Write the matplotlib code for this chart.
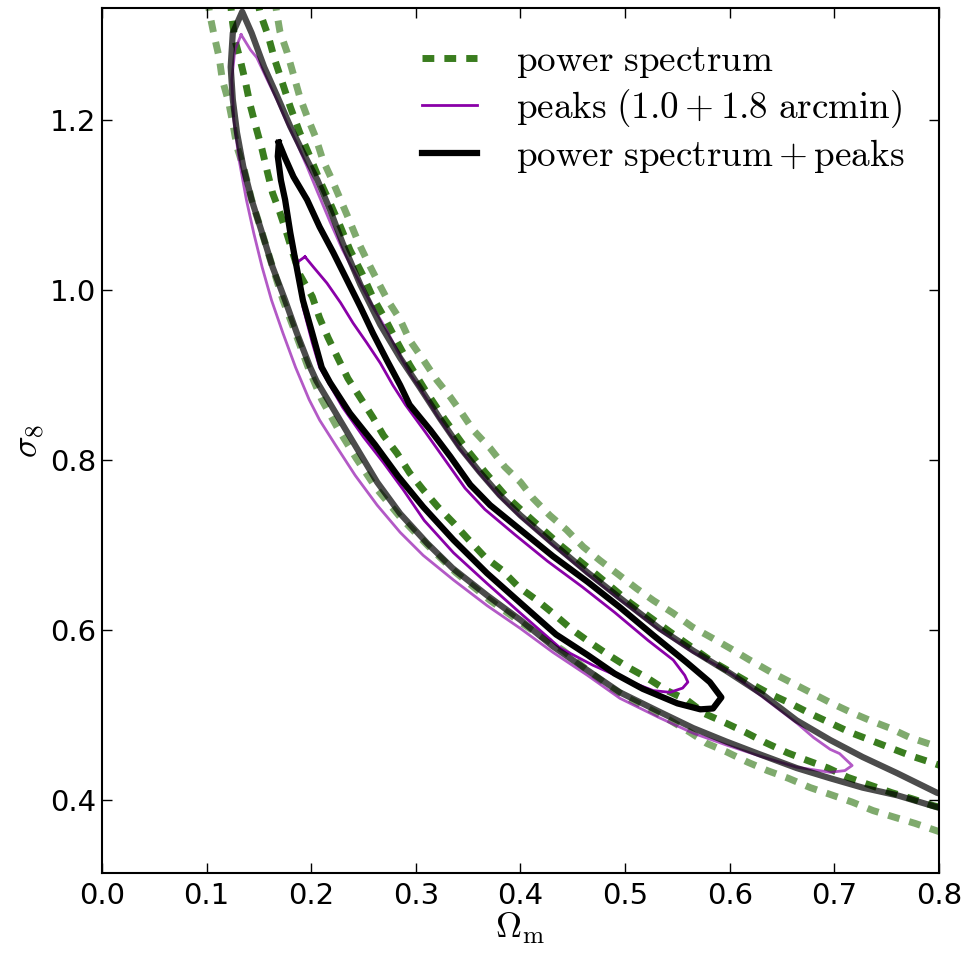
import matplotlib
matplotlib.use("Agg")
import matplotlib.pyplot as plt

plt.rcParams['mathtext.fontset'] = 'cm'

# power spectrum, 68% (dark) and 95% (light) contours -- two open branches each
ps68_lo_x = [0.122, 0.124, 0.127, 0.132, 0.137, 0.1415, 0.147, 0.153, 0.158, 0.163,
             0.170, 0.177, 0.183, 0.189, 0.201, 0.208, 0.216, 0.225, 0.235, 0.247,
             0.259, 0.269, 0.282, 0.294, 0.307, 0.321, 0.336, 0.350, 0.366, 0.382,
             0.398, 0.416, 0.431, 0.449, 0.466, 0.484, 0.502, 0.521, 0.540, 0.559,
             0.576, 0.596, 0.615, 0.634, 0.655, 0.674, 0.694, 0.713, 0.734, 0.755,
             0.774, 0.794, 0.820]
ps68_lo_y = [1.35, 1.322, 1.294, 1.271, 1.245, 1.218, 1.192, 1.165, 1.139, 1.114,
             1.091, 1.065, 1.041, 1.018, 0.992, 0.967, 0.944, 0.921, 0.896, 0.873,
             0.850, 0.829, 0.808, 0.785, 0.765, 0.745, 0.726, 0.707, 0.686, 0.671,
             0.651, 0.635, 0.620, 0.601, 0.586, 0.571, 0.557, 0.544, 0.529, 0.518,
             0.502, 0.491, 0.480, 0.468, 0.456, 0.447, 0.438, 0.427, 0.418, 0.409,
             0.402, 0.394, 0.386]
ps68_hi_x = [0.147, 0.151, 0.159, 0.165, 0.172, 0.180, 0.189, 0.199, 0.208, 0.218,
             0.228, 0.237, 0.249, 0.259, 0.271, 0.282, 0.294, 0.309, 0.328, 0.347,
             0.366, 0.385, 0.409, 0.438, 0.473, 0.505, 0.543, 0.581, 0.619, 0.637,
             0.658, 0.677, 0.696, 0.715, 0.734, 0.755, 0.774, 0.794, 0.820]
ps68_hi_y = [1.35, 1.326, 1.298, 1.271, 1.245, 1.215, 1.185, 1.156, 1.129, 1.102,
             1.074, 1.047, 1.018, 0.991, 0.965, 0.939, 0.912, 0.882, 0.847, 0.815,
             0.786, 0.759, 0.732, 0.700, 0.665, 0.632, 0.598, 0.565, 0.538, 0.526,
             0.514, 0.502, 0.491, 0.480, 0.471, 0.461, 0.452, 0.444, 0.433]
ps95_lo_x = [0.100, 0.103, 0.107, 0.112, 0.115, 0.121, 0.125, 0.129, 0.136, 0.143,
             0.153, 0.163, 0.173, 0.185, 0.197, 0.210, 0.225, 0.243, 0.262, 0.285,
             0.311, 0.338, 0.371, 0.404, 0.441, 0.466, 0.486, 0.503, 0.522, 0.543,
             0.562, 0.578, 0.597, 0.617, 0.636, 0.656, 0.677, 0.696, 0.717, 0.737,
             0.758, 0.777, 0.796, 0.820]
ps95_lo_y = [1.35, 1.324, 1.300, 1.273, 1.247, 1.221, 1.196, 1.168, 1.141, 1.106,
             1.067, 1.027, 0.988, 0.949, 0.909, 0.871, 0.838, 0.802, 0.767, 0.733,
             0.700, 0.668, 0.635, 0.606, 0.576, 0.551, 0.533, 0.520, 0.508, 0.494,
             0.480, 0.467, 0.457, 0.445, 0.435, 0.426, 0.415, 0.407, 0.398, 0.388,
             0.380, 0.373, 0.365, 0.355]
ps95_hi_x = [0.164, 0.167, 0.170, 0.177, 0.183, 0.189, 0.196, 0.204, 0.211, 0.220,
             0.228, 0.237, 0.245, 0.254, 0.264, 0.273, 0.285, 0.294, 0.307, 0.320,
             0.333, 0.344, 0.355, 0.371, 0.385, 0.400, 0.412, 0.428, 0.444, 0.460,
             0.476, 0.492, 0.511, 0.527, 0.546, 0.564, 0.583, 0.600, 0.619, 0.639,
             0.658, 0.677, 0.696, 0.715, 0.734, 0.753, 0.772, 0.794, 0.820]
ps95_hi_y = [1.35, 1.326, 1.304, 1.279, 1.253, 1.227, 1.204, 1.180, 1.153, 1.129,
             1.106, 1.080, 1.056, 1.033, 1.009, 0.988, 0.965, 0.941, 0.918, 0.894,
             0.874, 0.855, 0.835, 0.814, 0.792, 0.774, 0.755, 0.735, 0.718, 0.698,
             0.682, 0.667, 0.649, 0.635, 0.620, 0.604, 0.591, 0.579, 0.565, 0.551,
             0.539, 0.527, 0.515, 0.504, 0.494, 0.485, 0.474, 0.465, 0.455]

# peaks (1.0+1.8 arcmin), closed contours
pk68_x = [0.194, 0.202, 0.215, 0.228, 0.240, 0.253, 0.266, 0.278, 0.290, 0.309,
          0.328, 0.347, 0.366, 0.395, 0.426, 0.459, 0.490, 0.522, 0.546, 0.557,
          0.560, 0.555, 0.543, 0.527, 0.502, 0.469, 0.438, 0.400, 0.368, 0.336,
          0.308, 0.288, 0.269, 0.250, 0.230, 0.215, 0.208, 0.201, 0.192, 0.189,
          0.186, 0.194]
pk68_y = [1.039, 1.027, 1.008, 0.985, 0.961, 0.938, 0.914, 0.888, 0.865, 0.833,
          0.800, 0.767, 0.742, 0.712, 0.681, 0.651, 0.621, 0.588, 0.565, 0.547,
          0.539, 0.532, 0.527, 0.529, 0.541, 0.559, 0.579, 0.620, 0.655, 0.691,
          0.729, 0.765, 0.797, 0.827, 0.862, 0.894, 0.909, 0.938, 0.980, 1.008,
          1.032, 1.039]
pk95_x = [0.133, 0.127, 0.124, 0.126, 0.131, 0.138, 0.145, 0.153, 0.162, 0.173,
          0.185, 0.198, 0.208, 0.223, 0.242, 0.263, 0.285, 0.307, 0.336, 0.368,
          0.400, 0.431, 0.464, 0.495, 0.533, 0.565, 0.597, 0.629, 0.664, 0.696,
          0.710, 0.717, 0.705, 0.696, 0.680, 0.664, 0.648, 0.632, 0.617, 0.600,
          0.565, 0.533, 0.495, 0.464, 0.431, 0.400, 0.380, 0.361, 0.342, 0.323,
          0.306, 0.294, 0.283, 0.271, 0.258, 0.245, 0.230, 0.218, 0.206, 0.196,
          0.186, 0.177, 0.167, 0.158, 0.148, 0.142, 0.133]
pk95_y = [1.300, 1.282, 1.247, 1.200, 1.153, 1.106, 1.067, 1.027, 0.988, 0.949,
          0.909, 0.871, 0.847, 0.818, 0.782, 0.747, 0.715, 0.688, 0.659, 0.629,
          0.602, 0.574, 0.547, 0.520, 0.497, 0.479, 0.465, 0.452, 0.439, 0.433,
          0.435, 0.441, 0.455, 0.460, 0.474, 0.491, 0.506, 0.521, 0.535, 0.550,
          0.574, 0.600, 0.636, 0.666, 0.700, 0.733, 0.757, 0.784, 0.813, 0.847,
          0.880, 0.902, 0.927, 0.955, 0.982, 1.012, 1.047, 1.080, 1.115, 1.145,
          1.173, 1.196, 1.224, 1.247, 1.273, 1.282, 1.300]

# power spectrum + peaks, closed contours
cb68_x = [0.169, 0.175, 0.183, 0.196, 0.208, 0.221, 0.234, 0.247, 0.259, 0.272,
          0.285, 0.294, 0.314, 0.333, 0.352, 0.371, 0.400, 0.431, 0.464, 0.495,
          0.527, 0.559, 0.581, 0.592, 0.584, 0.572, 0.550, 0.517, 0.490, 0.464,
          0.434, 0.400, 0.368, 0.336, 0.307, 0.283, 0.261, 0.237, 0.218, 0.210,
          0.201, 0.192, 0.186, 0.180, 0.175, 0.171, 0.168, 0.169]
cb68_y = [1.173, 1.155, 1.133, 1.106, 1.074, 1.044, 1.012, 0.980, 0.949, 0.918,
          0.888, 0.865, 0.835, 0.804, 0.771, 0.747, 0.718, 0.687, 0.657, 0.627,
          0.594, 0.562, 0.539, 0.521, 0.508, 0.507, 0.514, 0.531, 0.549, 0.571,
          0.595, 0.632, 0.667, 0.706, 0.745, 0.781, 0.818, 0.855, 0.891, 0.909,
          0.949, 0.988, 1.027, 1.067, 1.106, 1.129, 1.157, 1.173]
cb95_x = [0.811, 0.798, 0.760, 0.727, 0.696, 0.664, 0.629, 0.597, 0.565, 0.533,
          0.495, 0.464, 0.431, 0.400, 0.368, 0.335, 0.311, 0.285, 0.263, 0.244,
          0.225, 0.205, 0.199, 0.186, 0.175, 0.163, 0.153, 0.143, 0.135, 0.129,
          0.125, 0.123, 0.125, 0.134,
          0.143, 0.155, 0.167, 0.180, 0.192, 0.206, 0.218, 0.230, 0.247, 0.266,
          0.285, 0.304, 0.323, 0.342, 0.361, 0.380, 0.400, 0.431, 0.464, 0.495,
          0.533, 0.565, 0.597, 0.632, 0.664, 0.696, 0.727, 0.760, 0.798, 0.811]
cb95_y = [0.388, 0.392, 0.406, 0.415, 0.426, 0.438, 0.454, 0.469, 0.485, 0.504,
          0.527, 0.553, 0.581, 0.612, 0.641, 0.673, 0.702, 0.737, 0.774, 0.813,
          0.852, 0.893, 0.909, 0.950, 0.988, 1.027, 1.067, 1.106, 1.145, 1.185,
          1.224, 1.262, 1.302, 1.327,
          1.302, 1.262, 1.229, 1.192, 1.162, 1.129, 1.094, 1.055, 1.006, 0.959,
          0.920, 0.885, 0.849, 0.815, 0.786, 0.759, 0.735, 0.702, 0.668, 0.638,
          0.602, 0.576, 0.552, 0.524, 0.494, 0.471, 0.451, 0.432, 0.409, 0.404]

green = '#3a7d1f'
purple = '#8a00a8'
dots = (0, (1.7, 1.45))

fig = plt.figure(figsize=(9.67, 9.57), dpi=100)
ax = fig.add_axes([0.1055, 0.0881, 0.8655, 0.9032])

# power spectrum
ax.plot(ps95_lo_x, ps95_lo_y, color=green, alpha=0.65, lw=5, ls=dots, zorder=1)
ax.plot(ps95_hi_x, ps95_hi_y, color=green, alpha=0.65, lw=5, ls=dots, zorder=1)
ax.plot(ps68_lo_x, ps68_lo_y, color=green, lw=5, ls=dots, zorder=1,
        label='$\\mathrm{power\\ spectrum}$')
ax.plot(ps68_hi_x, ps68_hi_y, color=green, lw=5, ls=dots, zorder=1)

# peaks
ax.plot(pk95_x, pk95_y, color=purple, alpha=0.65, lw=2, zorder=2)
ax.plot(pk68_x, pk68_y, color=purple, lw=2, zorder=2,
        label='$\\mathrm{peaks}\\ (1.0+1.8\\ \\mathrm{arcmin})$')

# combined
ax.plot(cb95_x, cb95_y, color='k', alpha=0.7, lw=4.5, zorder=3)
ax.plot(cb68_x, cb68_y, color='k', lw=4.5, zorder=4,
        label='$\\mathrm{power\\ spectrum}+\\mathrm{peaks}$')

ax.set_xlim(0.0, 0.8)
ax.set_ylim(0.315, 1.331)
ax.set_xticks([0.0, 0.1, 0.2, 0.3, 0.4, 0.5, 0.6, 0.7, 0.8])
ax.set_yticks([0.4, 0.6, 0.8, 1.0, 1.2])
ax.tick_params(direction='in', top=True, right=True, length=7, width=1,
               labelsize=21)
ax.tick_params(axis='x', pad=7)
ax.tick_params(axis='y', pad=4)
for s in ax.spines.values():
    s.set_linewidth(1.5)

ax.set_xlabel('$\\Omega_{\\rm m}$', fontsize=26, labelpad=0)
ax.set_ylabel('$\\sigma_8$', fontsize=26, labelpad=2)

ax.legend(loc='upper left', bbox_to_anchor=(0.342, 1.0), frameon=False,
          fontsize=26.7, handlelength=1.5, handletextpad=1.05, labelspacing=0.2)

fig.savefig('out.png', dpi=100)
